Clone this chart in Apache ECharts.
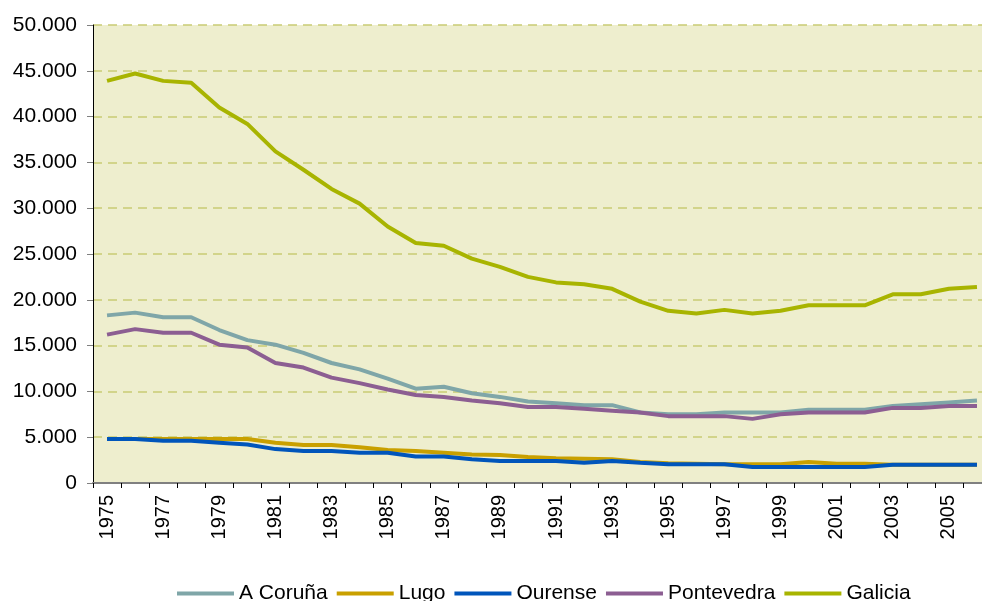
<!DOCTYPE html>
<html>
<head>
<meta charset="utf-8">
<script src="https://cdn.jsdelivr.net/npm/echarts@6/dist/echarts.min.js"></script>
<style>html,body{margin:0;padding:0;background:#fff;overflow:hidden}#c{width:991px;height:601px}</style>
</head>
<body>
<div id="c"></div>
<script>
const years = ['1975','1976','1977','1978','1979','1980','1981','1982','1983','1984','1985','1986','1987','1988','1989','1990','1991','1992','1993','1994','1995','1996','1997','1998','1999','2000','2001','2002','2003','2004','2005','2006'];
const aCoruna = [18300,18600,18100,18100,16700,15600,15100,14200,13100,12400,11400,10300,10500,9800,9400,8900,8700,8500,8500,7700,7500,7500,7700,7700,7700,8000,8000,8000,8400,8600,8800,9000];
const lugo = [4800,4800,4800,4800,4800,4800,4400,4150,4150,3900,3600,3500,3300,3100,3050,2850,2700,2650,2600,2300,2150,2100,2050,2050,2050,2300,2100,2100,2000,2000,2000,2000];
const ourense = [4800,4800,4600,4600,4400,4200,3700,3500,3500,3300,3300,2900,2900,2600,2400,2400,2400,2200,2400,2200,2050,2050,2050,1750,1750,1750,1750,1750,2000,2000,2000,2000];
const pontevedra = [16200,16800,16400,16400,15100,14800,13100,12600,11500,10900,10200,9600,9400,9000,8700,8300,8300,8100,7900,7700,7300,7300,7300,7000,7500,7700,7700,7700,8200,8200,8400,8400];
const galicia = [43900,44700,43900,43700,41000,39200,36200,34200,32100,30500,28000,26200,25900,24500,23600,22500,21900,21700,21200,19800,18800,18500,18900,18500,18800,19400,19400,19400,20600,20600,21200,21400];

const names = ['A Coruña','Lugo','Ourense','Pontevedra','Galicia'];
const colors = ['#7FA6A8','#C9A000','#0055BB','#8C5E92','#A8B400'];
const dataSets = [aCoruna, lugo, ourense, pontevedra, galicia];

const fmt = v => String(v).replace(/\B(?=(\d{3})+(?!\d))/g, '.');
const FONT = '"Liberation Sans", Arial, sans-serif';

const chart = echarts.init(document.getElementById('c'), null, {renderer:'canvas'});
chart.setOption({
  animation: false,
  backgroundColor: '#ffffff',
  grid: {left: 93, right: 0, top: 25, bottom: 118, show: true, backgroundColor: '#EEEECE', borderWidth: 0},
  legend: {
    left: 172, top: 578,
    itemWidth: 57, itemHeight: 4, itemGap: 9,
    icon: 'rect',
    textStyle: {fontFamily: FONT, fontSize: 21, color: '#000'},
    data: names
  },
  xAxis: {
    type: 'category',
    data: years,
    boundaryGap: true,
    axisLine: {lineStyle: {color: '#808080', width: 2}},
    axisTick: {show: true, interval: 0, length: 5, lineStyle: {color: '#000'}},
    axisLabel: {interval: 1, rotate: 90, fontFamily: FONT, fontSize: 20, color: '#000', margin: 12},
    splitLine: {show: false}
  },
  yAxis: {
    type: 'value',
    min: 0, max: 50000, interval: 5000,
    axisLine: {show: true, lineStyle: {color: '#000', width: 1}},
    axisTick: {show: true, length: 6, lineStyle: {color: '#808080'}},
    axisLabel: {fontFamily: FONT, fontSize: 21, color: '#000', margin: 16, formatter: fmt},
    splitLine: {show: true, lineStyle: {color: '#C9CC74', width: 1.5, type: [9, 6]}}
  },
  series: dataSets.map((d, i) => ({
    name: names[i],
    type: 'line',
    data: d,
    symbol: 'none',
    lineStyle: {color: colors[i], width: 4},
    itemStyle: {color: colors[i]}
  }))
});
</script>
</body>
</html>
